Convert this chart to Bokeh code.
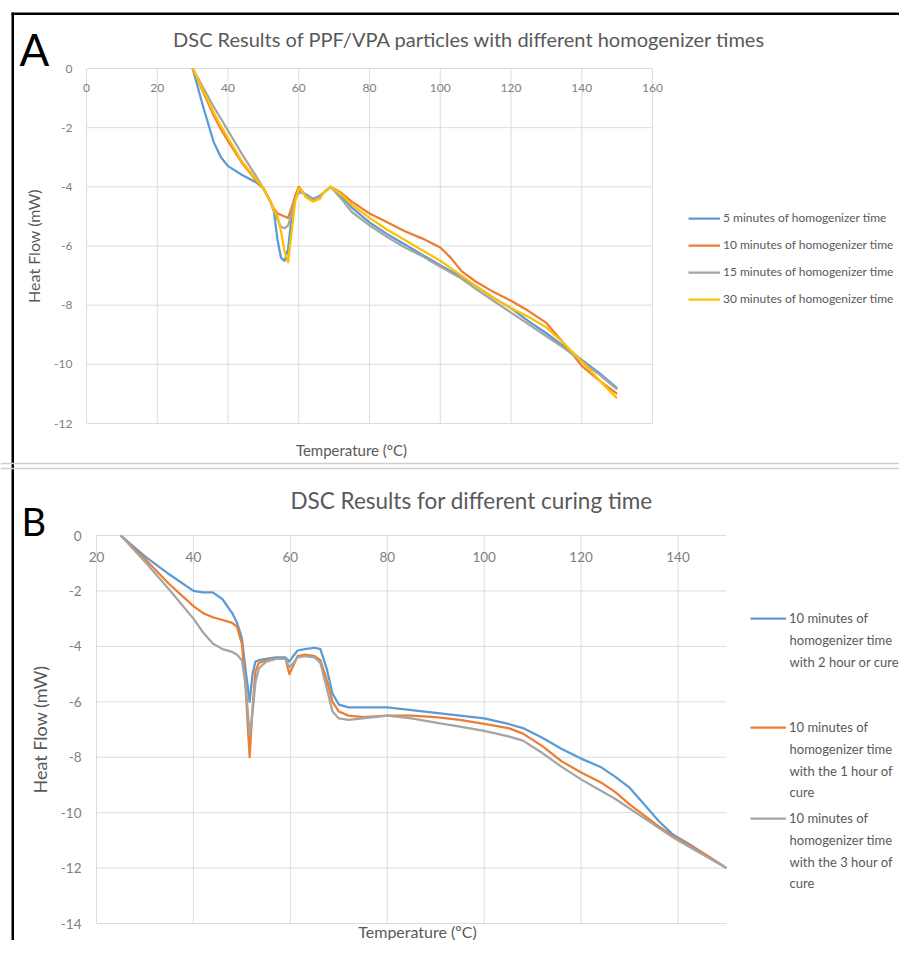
from bokeh.plotting import figure
from bokeh.models import (Legend, LegendItem, Label, FixedTicker, Range1d, LinearAxis, Span, BoxAnnotation)
from bokeh.embed import file_html
from bokeh.resources import INLINE

# ---------------- Panel A data ----------------
a_title = "DSC Results of PPF/VPA particles with different homogenizer times"
a_xtitle = "Temperature (°C)"
a_ytitle = "Heat Flow (mW)"
a_temp = [30, 33, 36, 38, 40, 44, 48, 50, 52, 53, 54, 55, 56, 57, 58, 59, 60, 61, 62, 64, 66,
          67, 69, 72, 75, 80, 85, 90, 95, 100, 103, 106, 110, 115, 120, 125, 130, 135, 140, 145, 150]
a_5min = [0, -1.3, -2.5, -3.0, -3.3, -3.6, -3.85, -4.05, -4.5, -4.85, -5.8, -6.4, -6.5, -6.1, -5.0, -4.4, -4.15, -4.2, -4.25, -4.4, -4.3,
          -4.2, -4.0, -4.3, -4.7, -5.2, -5.6, -5.95, -6.3, -6.65, -6.85, -7.05, -7.35, -7.75, -8.1, -8.55, -8.95, -9.4, -9.85, -10.3, -10.8]
a_10min = [0, -0.8, -1.6, -2.05, -2.45, -3.2, -3.8, -4.05, -4.5, -4.75, -4.9, -4.95, -5.0, -5.05, -4.7, -4.3, -4.0, -4.15, -4.3, -4.45, -4.35,
           -4.2, -4.0, -4.2, -4.5, -4.9, -5.2, -5.5, -5.75, -6.05, -6.4, -6.85, -7.2, -7.55, -7.85, -8.2, -8.6, -9.3, -10.05, -10.55, -11.0]
a_15min = [0, -0.65, -1.3, -1.7, -2.1, -2.9, -3.65, -4.05, -4.5, -4.8, -5.1, -5.35, -5.4, -5.3, -4.9, -4.4, -4.2, -4.2, -4.3, -4.4, -4.35,
           -4.2, -4.0, -4.4, -4.85, -5.3, -5.7, -6.05, -6.35, -6.7, -6.9, -7.1, -7.45, -7.85, -8.25, -8.65, -9.05, -9.45, -9.9, -10.35, -10.85]
a_30min = [0, -0.75, -1.5, -1.95, -2.35, -3.15, -3.75, -4.05, -4.5, -4.8, -5.0, -5.5, -6.2, -6.55, -5.5, -4.5, -4.05, -4.15, -4.35, -4.5, -4.4,
           -4.2, -4.0, -4.25, -4.6, -5.05, -5.45, -5.8, -6.15, -6.5, -6.75, -7.0, -7.35, -7.75, -8.1, -8.4, -8.75, -9.3, -9.9, -10.55, -11.15]
a_series_names = ["5 minutes of homogenizer time", "10 minutes of homogenizer time",
                  "15 minutes of homogenizer time", "30 minutes of homogenizer time"]
a_xlim = (0, 160)
a_ylim = (-12, 0)
a_xticks = [0, 20, 40, 60, 80, 100, 120, 140, 160]
a_xlabels = ["0", "20", "40", "60", "80", "100", "120", "140", "160"]
a_yticks = [0, -2, -4, -6, -8, -10, -12]
a_ylabels = ["0", "-2", "-4", "-6", "-8", "-10", "-12"]

# ---------------- Panel B data ----------------
b_title = "DSC Results for different curing time"
b_xtitle = "Temperature (ºC)"
b_ytitle = "Heat Flow (mW)"
b_temp = [25, 30, 35, 40, 42, 44, 46, 48, 49, 50, 50.8, 51.6, 52.2, 52.8, 53.5, 55, 57, 59, 59.8, 60.6,
          61.5, 63, 65, 66.2, 67.5, 68.7, 70, 72, 75, 80, 85, 90, 95, 100, 105, 108, 112, 116, 120, 124,
          127, 130, 133, 136, 139, 142, 146, 150]
b_2h = [0, -0.75, -1.4, -2.0, -2.05, -2.05, -2.3, -2.8, -3.15, -3.7, -4.9, -6.0, -5.0, -4.55, -4.5, -4.45, -4.4, -4.4, -4.55, -4.35,
        -4.15, -4.1, -4.05, -4.1, -4.8, -5.7, -6.1, -6.2, -6.2, -6.2, -6.3, -6.4, -6.5, -6.6, -6.8, -6.95, -7.3, -7.7, -8.05, -8.35,
        -8.7, -9.1, -9.7, -10.3, -10.8, -11.1, -11.55, -12.0]
b_1h = [0, -0.85, -1.75, -2.55, -2.8, -2.95, -3.05, -3.15, -3.3, -3.9, -5.6, -8.0, -6.2, -4.9, -4.6, -4.5, -4.45, -4.45, -5.0, -4.7,
        -4.35, -4.3, -4.35, -4.5, -5.2, -6.0, -6.35, -6.5, -6.55, -6.5, -6.5, -6.55, -6.65, -6.8, -6.95, -7.15, -7.6, -8.15, -8.55, -8.9,
        -9.25, -9.7, -10.1, -10.5, -10.85, -11.15, -11.55, -12.0]
b_3h = [0, -0.95, -1.95, -3.0, -3.5, -3.9, -4.1, -4.2, -4.3, -4.5, -5.4, -7.2, -6.4, -5.3, -4.8, -4.55, -4.45, -4.45, -4.75, -4.6,
        -4.4, -4.35, -4.4, -4.6, -5.5, -6.35, -6.6, -6.65, -6.6, -6.5, -6.6, -6.75, -6.9, -7.05, -7.25, -7.4, -7.85, -8.35, -8.8, -9.2,
        -9.5, -9.85, -10.2, -10.55, -10.9, -11.2, -11.6, -12.0]
# legend texts, wrapped into lines as in the original legend
b_series_lines = [["10 minutes of", "homogenizer time", "with 2 hour or cure"],
                  ["10 minutes of", "homogenizer time", "with the 1 hour of", "cure"],
                  ["10 minutes of", "homogenizer time", "with the 3 hour of", "cure"]]
b_xlim = (20, 150)
b_ylim = (-14, 0)
b_xticks = [20, 40, 60, 80, 100, 120, 140]
b_xlabels = ["20", "40", "60", "80", "100", "120", "140"]
b_yticks = [0, -2, -4, -6, -8, -10, -12, -14]
b_ylabels = ["0", "-2", "-4", "-6", "-8", "-10", "-12", "-14"]

COLORS = ["#5B9BD5", "#ED7D31", "#A5A5A5", "#FFC000"]
FONT = "Lato"
DARK = "#595959"
TICKC = "#808080"
GRID = "#dcdcdc"

# ---------------- canvas layout (pixels) ----------------
W, H = 899, 940
A_BOX = (86, 652, 68, 423)     # plot-area left, right, top, bottom in canvas px
B_BOX = (96, 726, 535, 923)


def ranges(xlim, ylim, box):
    l, r, t, b = box
    kx = (xlim[1] - xlim[0]) / (r - l)
    ky = (ylim[1] - ylim[0]) / (b - t)
    xr = (xlim[0] - l * kx, xlim[1] + (W - r) * kx)
    yr = (ylim[0] - (H - b) * ky, ylim[1] + t * ky)
    return xr, yr


a_xr, a_yr = ranges(a_xlim, a_ylim, A_BOX)
b_xr, b_yr = ranges(b_xlim, b_ylim, B_BOX)


def to_data(px, py, xr, yr):
    return xr[0] + px * (xr[1] - xr[0]) / W, yr[1] - py * (yr[1] - yr[0]) / H


p = figure(width=W, height=H, x_range=Range1d(*a_xr), y_range=Range1d(*a_yr),
           x_axis_type=None, y_axis_type=None, output_backend="svg", toolbar_location=None,
           min_border=0, min_border_left=0, min_border_right=0, min_border_top=0, min_border_bottom=0)
p.extra_x_ranges = {"bx": Range1d(*b_xr)}
p.extra_y_ranges = {"by": Range1d(*b_yr)}
p.outline_line_color = None
p.background_fill_color = "white"
p.border_fill_color = "white"


def add_axes(xlim, ylim, xticks, xlabels, yticks, ylabels, tick_size, xstand, ystand,
             ytitle, ytitle_size, ytitle_stand, rn):
    kw = {} if rn is None else {"x_range_name": rn[0], "y_range_name": rn[1]}
    xa = LinearAxis(fixed_location=ylim[1], bounds=xlim, ticker=FixedTicker(ticks=xticks),
                    major_label_overrides=dict(zip(xticks, xlabels)), **kw)
    ya = LinearAxis(fixed_location=xlim[0], bounds=ylim, ticker=FixedTicker(ticks=yticks),
                    major_label_overrides=dict(zip(yticks, ylabels)), **kw)
    for ax, st in ((xa, xstand), (ya, ystand)):
        ax.major_tick_out = 0
        ax.major_tick_in = 0
        ax.minor_tick_out = 0
        ax.minor_tick_in = 0
        ax.axis_line_color = None
        ax.major_label_standoff = st
        ax.major_label_text_font = FONT
        ax.major_label_text_font_size = tick_size
        ax.major_label_text_color = TICKC
    ya.axis_label = ytitle
    ya.axis_label_text_font = FONT
    ya.axis_label_text_font_style = "normal"
    ya.axis_label_text_font_size = ytitle_size
    ya.axis_label_text_color = DARK
    ya.axis_label_standoff = ytitle_stand
    p.add_layout(xa, "below")
    p.add_layout(ya, "left")
    # gridlines, from the tick arrays and axis limits
    p.segment(x0=xticks, y0=[ylim[0]] * len(xticks), x1=xticks, y1=[ylim[1]] * len(xticks),
              line_color=GRID, line_width=1, **kw)
    p.segment(x0=[xlim[0]] * len(yticks), y0=yticks, x1=[xlim[1]] * len(yticks), y1=yticks,
              line_color=GRID, line_width=1, **kw)


def style_legend(leg, size, glyph_w, standoff, spacing, item_h):
    leg.background_fill_alpha = 0
    leg.border_line_alpha = 0
    leg.padding = 0
    leg.margin = 0
    leg.spacing = spacing
    leg.glyph_width = glyph_w
    leg.glyph_height = item_h
    leg.label_height = item_h
    leg.label_standoff = standoff
    leg.label_text_font = FONT
    leg.label_text_font_size = size
    leg.label_text_color = DARK


# ---------------- Panel A ----------------
add_axes(a_xlim, a_ylim, a_xticks, a_xlabels, a_yticks, a_ylabels, "12px", 15, 14,
         a_ytitle, "16px", 8, None)
rA = [p.line(a_temp, ys, line_color=c, line_width=2.25, line_join="round")
      for ys, c in zip([a_5min, a_10min, a_15min, a_30min], COLORS)]
legA = Legend(items=[LegendItem(label=n, renderers=[r]) for n, r in zip(a_series_names, rA)],
              location=(688, H - 306))
style_legend(legA, "12px", 32, 3, 12, 14)
p.add_layout(legA)

tx, ty = to_data(469, 38, a_xr, a_yr)
p.add_layout(Label(x=tx, y=ty, text=a_title, text_align="center", text_baseline="middle",
                   text_font=FONT, text_font_size="20px", text_color=DARK))
tx, ty = to_data(19, 48, a_xr, a_yr)
p.add_layout(Label(x=tx, y=ty, text="A", text_align="left", text_baseline="middle",
                   text_font=FONT, text_font_size="44px", text_color="black"))
tx, ty = to_data(351, 449, a_xr, a_yr)
p.add_layout(Label(x=tx, y=ty, text=a_xtitle, text_align="center", text_baseline="middle",
                   text_font=FONT, text_font_size="15px", text_color=DARK))

# ---------------- Panel B ----------------
add_axes(b_xlim, b_ylim, b_xticks, b_xlabels, b_yticks, b_ylabels, "13.5px", 16, 15,
         b_ytitle, "18px", 7, ("bx", "by"))
rB = [p.line(b_temp, ys, line_color=c, line_width=2.25, line_join="round",
             x_range_name="bx", y_range_name="by")
      for ys, c in zip([b_2h, b_1h, b_3h], COLORS[:3])]
LINE_PITCH = 21.5
for lines, r, first in zip(b_series_lines, rB, [618, 727, 818]):
    lg = Legend(items=[LegendItem(label=lines[0], renderers=[r])], location=(750, H - (first + 9)))
    style_legend(lg, "13px", 36, 3, 0, 18)
    p.add_layout(lg)
    for k, txt in enumerate(lines[1:], start=1):
        lx, ly = to_data(789, first + k * LINE_PITCH, b_xr, b_yr)
        p.add_layout(Label(x=lx, y=ly, text=txt, text_align="left", text_baseline="middle",
                           text_font=FONT, text_font_size="13px", text_color=DARK,
                           x_range_name="bx", y_range_name="by"))

tx, ty = to_data(471, 500, b_xr, b_yr)
p.add_layout(Label(x=tx, y=ty, text=b_title, text_align="center", text_baseline="middle",
                   text_font=FONT, text_font_size="22.5px", text_color=DARK,
                   x_range_name="bx", y_range_name="by"))
tx, ty = to_data(21, 520, b_xr, b_yr)
p.add_layout(Label(x=tx, y=ty, text="B", text_align="left", text_baseline="middle",
                   text_font=FONT, text_font_size="38px", text_color="black",
                   x_range_name="bx", y_range_name="by"))
tx, ty = to_data(417, 931, b_xr, b_yr)
p.add_layout(Label(x=tx, y=ty, text=b_xtitle, text_align="center", text_baseline="middle",
                   text_font=FONT, text_font_size="16px", text_color=DARK,
                   x_range_name="bx", y_range_name="by"))

# ---------------- frame decorations ----------------
# black panel border (left and top edges), meeting at the top-left corner
x0, y0 = to_data(11, 12, a_xr, a_yr)
x1, y1 = to_data(13.5, 14.5, a_xr, a_yr)
p.add_layout(BoxAnnotation(left=x0, right=x1, top=y0, fill_color="black", fill_alpha=1,
                           line_color=None))
p.add_layout(BoxAnnotation(left=x0, top=y0, bottom=y1, fill_color="black", fill_alpha=1,
                           line_color=None))
for py in (463, 468):
    _, sy = to_data(0, py, a_xr, a_yr)
    p.add_layout(Span(location=sy, dimension="width", line_color="#cfcfcf", line_width=1.5))

open("out.html", "w").write(file_html(p, INLINE))
